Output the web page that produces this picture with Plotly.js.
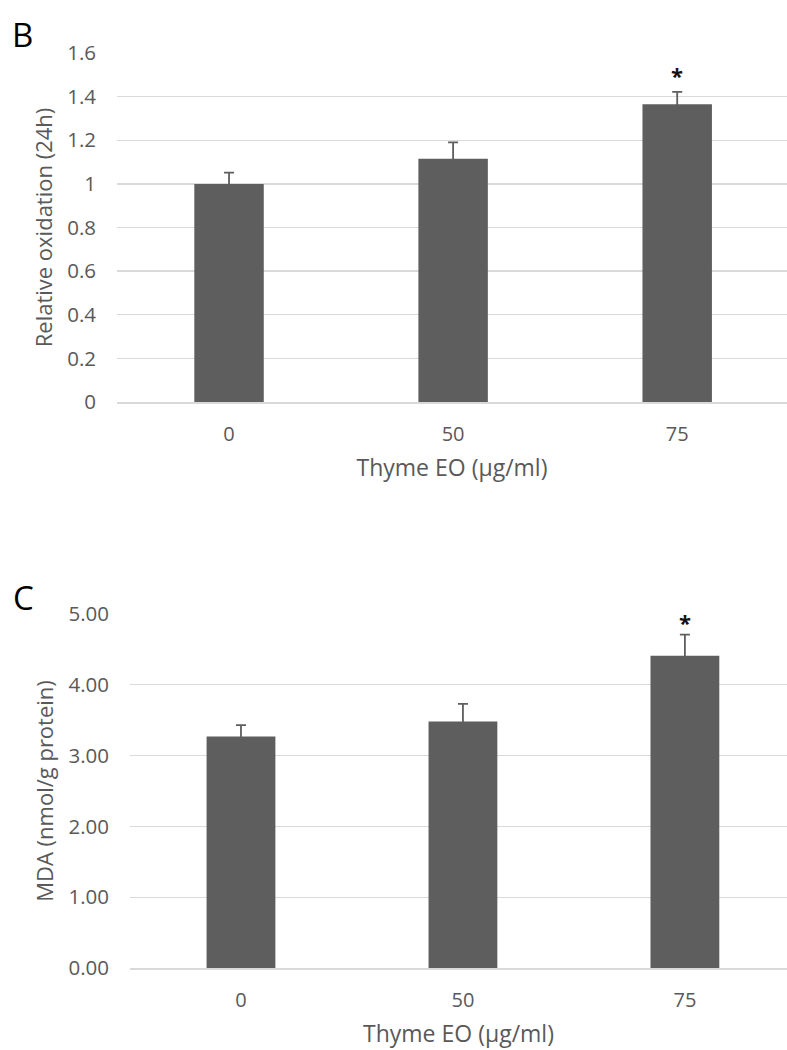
<!DOCTYPE html>
<html>
<head>
<meta charset="utf-8">
<script src="https://cdn.plot.ly/plotly-3.0.1.min.js"></script>
<style>html,body{margin:0;padding:0;background:#fff;}#chart{width:787px;height:1050px;}</style>
</head>
<body>
<div id="chart"></div>
<script>
// Data
const doses = ["0", "50", "75"];
const oxidation = [1.00, 1.115, 1.365];
const oxidationErr = [0.052, 0.075, 0.057];
const mda = [3.27, 3.48, 4.41];
const mdaErr = [0.16, 0.25, 0.30];
const sigTop = ["", "", "*"];
const sigBottom = ["", "", "*"];
const oxTicks = [0, 0.2, 0.4, 0.6, 0.8, 1, 1.2, 1.4, 1.6];
const oxTickText = ["0", "0.2", "0.4", "0.6", "0.8", "1", "1.2", "1.4", "1.6"];
const mdaTicks = [0, 1, 2, 3, 4, 5];
const mdaTickText = ["0.00", "1.00", "2.00", "3.00", "4.00", "5.00"];

const FONT = "Open Sans, Noto Sans, Liberation Sans, sans-serif";
const GREY = "#595959";
const BAR = "#5e5e5e";
const GRID = "#d9d9d9";
const W = 787, H = 1050;

const traces = [
  {
    type: "bar", x: doses, y: oxidation, xaxis: "x", yaxis: "y",
    width: 0.31, marker: {color: BAR, line: {width: 0}},
    error_y: {type: "data", symmetric: true, array: oxidationErr, color: BAR, thickness: 1.8, width: 5},
    hoverinfo: "none", showlegend: false
  },
  {
    type: "bar", x: doses, y: mda, xaxis: "x2", yaxis: "y2",
    width: 0.31, marker: {color: BAR, line: {width: 0}},
    error_y: {type: "data", symmetric: true, array: mdaErr, color: BAR, thickness: 1.8, width: 5},
    hoverinfo: "none", showlegend: false
  }
];

const annotations = [];
doses.forEach((d, i) => {
  if (sigTop[i]) annotations.push({x: i, y: oxidation[i] + oxidationErr[i], xref: "x", yref: "y", text: "<b>" + sigTop[i] + "</b>", showarrow: false, yshift: 17, font: {family: FONT, size: 22, color: "#111"}});
  if (sigBottom[i]) annotations.push({x: i, y: mda[i] + mdaErr[i], xref: "x2", yref: "y2", text: "<b>" + sigBottom[i] + "</b>", showarrow: false, yshift: 13, font: {family: FONT, size: 22, color: "#111"}});
});
annotations.push({x: 22 / W, y: 1 - 34 / H, xref: "paper", yref: "paper", text: "B", showarrow: false, xanchor: "center", yanchor: "middle", font: {family: FONT, size: 33, color: "#000"}});
annotations.push({x: 23 / W, y: 1 - 597 / H, xref: "paper", yref: "paper", text: "C", showarrow: false, xanchor: "center", yanchor: "middle", font: {family: FONT, size: 33, color: "#000"}});

const axisX = {
  type: "category", showgrid: false, zeroline: false, showline: true, linecolor: GRID, linewidth: 1.5,
  ticks: "", tickfont: {family: FONT, size: 20, color: GREY}, ticklabelstandoff: 13, fixedrange: true
};
const axisY = {
  showgrid: true, gridcolor: GRID, gridwidth: 1.4, zeroline: false, showline: false, ticks: "",
  tickfont: {family: FONT, size: 20.5, color: GREY}, ticklabelstandoff: 20, fixedrange: true
};

const layout = {
  width: W, height: H,
  margin: {l: 0, r: 0, t: 0, b: 0},
  paper_bgcolor: "#fff", plot_bgcolor: "#fff",
  font: {family: FONT, color: GREY},
  showlegend: false,
  bargap: 0.69,
  xaxis: Object.assign({}, axisX, {domain: [117 / W, 1], anchor: "y", range: [-0.5, 2.49],
    title: {text: "Thyme EO (µg/ml)", font: {family: FONT, size: 23, color: GREY}, standoff: 14}}),
  yaxis: Object.assign({}, axisY, {domain: [1 - 402 / H, 1 - 53 / H], anchor: "x", range: [0, 1.6],
    tickvals: oxTicks, ticktext: oxTickText,
    title: {text: "Relative oxidation (24h)", font: {family: FONT, size: 22, color: GREY}, standoff: 8}}),
  xaxis2: Object.assign({}, axisX, {domain: [130 / W, 1], anchor: "y2", range: [-0.5, 2.46],
    title: {text: "Thyme EO (µg/ml)", font: {family: FONT, size: 23, color: GREY}, standoff: 14}}),
  yaxis2: Object.assign({}, axisY, {domain: [1 - 968 / H, 1 - 614 / H], anchor: "x2", range: [0, 5],
    tickvals: mdaTicks, ticktext: mdaTickText,
    title: {text: "MDA (nmol/g protein)", font: {family: FONT, size: 22, color: GREY}, standoff: 8}}),
  annotations: annotations
};

Plotly.newPlot("chart", traces, layout, {displayModeBar: false, staticPlot: true});
</script>
</body>
</html>
